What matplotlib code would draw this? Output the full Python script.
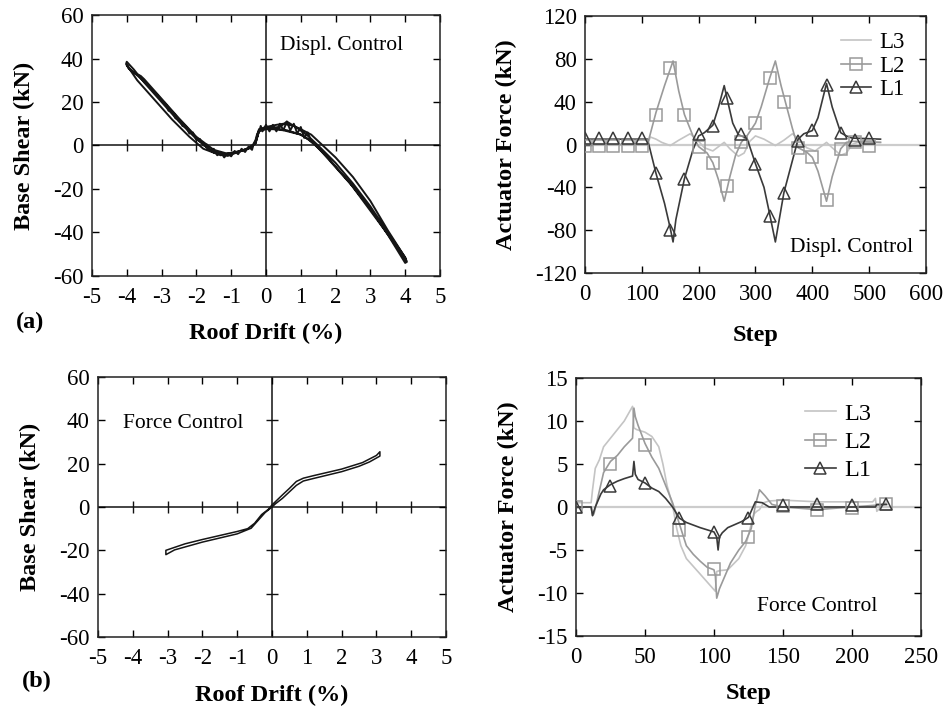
import matplotlib
matplotlib.use("Agg")
import matplotlib.pyplot as plt
from matplotlib.lines import Line2D

plt.rcParams['font.family'] = ['Liberation Serif', 'DejaVu Serif']
plt.rcParams['axes.unicode_minus'] = False

# ---------------- (a) Displacement control: base shear vs roof drift ----------------
drift_a = [0, -0.2, -0.3, -0.5, -0.8, -1.1, -1.5, -2.0, -2.5, -3.0, -3.5, -3.8, -4.0, -4.02,
           -3.95, -3.8, -3.6, -3.5, -3.0, -2.5, -2.0, -1.5, -1.1, -0.8, -0.4, -0.3, -0.2, 0,
           0.3, 0.5, 0.8, 1.0, 1.3, 1.6, 2.0, 2.5, 3.0, 3.5, 4.0, 4.05,
           4.0, 3.5, 3.0, 2.5, 2.0, 1.5, 1.2, 1.0, 0.5, 0.2, 0,
           -0.2, -0.3, -0.6, -1.0, -1.3, -1.8, -2.2, -2.7, -3.2, -3.7, -4.0,
           -3.9, -3.5, -3.0, -2.5, -2.0, -1.6, -1.2, -0.8, -0.45, -0.3, -0.2, 0,
           0.4, 0.6, 0.9, 1.2, 1.5, 2.0, 2.5, 3.0, 3.5, 4.0, 4.03,
           3.6, 3.0, 2.4, 1.8, 1.3, 1.0, 0.6, 0.2, 0]
shear_a = [8, 7, 1, -1.5, -3, -4.8, -3.2, 3, 11, 20, 29, 35, 38.5, 37.5,
           35.5, 33.5, 32, 30.5, 21.5, 12.5, 4, -2, -3.8, -2.8, -0.8, 2, 7.5, 8.5,
           9.5, 10, 9, 7.5, 5, 0.5, -5.5, -14.5, -25.5, -39, -51.5, -53.5,
           -54, -41, -29, -19, -10, -1, 3, 5, 7, 7.5, 7.5,
           6.5, 1, -2, -3.5, -4.5, -1.5, 4, 12, 21, 30, 37,
           35, 29.5, 21, 12, 3.5, -2.5, -4, -3, -1, 1.5, 7, 8,
           8.5, 11, 8, 4.5, 0, -8, -17.5, -28, -40, -51.5, -53,
           -43, -30, -17, -6, 2, 5, 7, 8, 8]
# jagged (noisy) part of the response
drift_a_noise = [-2.9, -2.8, -2.7, -2.6, -2.5, -2.4, -2.3, -2.2, -2.1, -2.0, -1.9, -1.8, -1.7,
                 -1.6, -1.5, -1.4, -1.3, -1.2, -1.1, -1.0, -0.9, -0.8, -0.7, -0.6, -0.5, -0.4,
                 -0.35, -0.3, -0.25, -0.2, -0.15, -0.1, 0.0, 0.1, 0.2, 0.3, 0.4, 0.5, 0.6, 0.7,
                 0.8, 0.9, 1.0, 1.1, 1.2, 1.3]
shear_a_noise = [19.5, 16, 15.5, 12.5, 12, 9, 8.5, 5.5, 6, 2.5, 3, 0, 0.5, -2.5, -1.5, -4.5,
                 -3, -5.5, -3.5, -5, -2.5, -4, -1.5, -3, -0.5, -2, 1, 2.5, 5.5, 6, 9, 6.5,
                 9.5, 6.5, 9.5, 6.5, 10, 7, 11, 7, 10, 5.5, 8.5, 3.5, 6, 2]

# ---------------- (b) Force control: base shear vs roof drift ----------------
drift_b = [0, 0.1, 0.3, 0.5, 0.7, 0.9, 1.2, 2.0, 2.5, 2.8, 3.1, 3.1,
           3.0, 2.6, 2.0, 1.2, 0.9, 0.7, 0.5, 0.3, 0.1, 0, -0.1, -0.3, -0.5, -0.7, -1.0,
           -2.0, -2.5, -3.05, -3.05,
           -2.8, -2.0, -1.0, -0.6, -0.4, -0.2, 0]
shear_b = [0, 1.5, 4, 7, 10, 12, 13.2, 16.3, 18.8, 20.8, 23.5, 25.5,
           23.8, 20.5, 17.5, 14.5, 13.3, 11.8, 8.6, 5.6, 2.5, 1, -1, -3.5, -7.5, -10, -11.3,
           -15, -17, -20, -22,
           -19.8, -16.2, -12.4, -9.8, -6.2, -2.6, 0]

# ---------------- (a) Actuator forces, displacement control ----------------
step_a_l1 = [0, 110, 125, 140, 150, 155, 160, 175, 190, 200, 210, 225, 235, 245, 250, 260, 270, 285,
             300, 315, 325, 335, 350, 365, 375, 385, 400, 410, 425, 435, 450, 460, 470, 520]
force_a_l1 = [5, 5, -27, -55, -78, -91, -70, -32, -5, 8, 11, 18, 35, 55, 43, 20, 9, 6,
              -18, -40, -65, -91, -45, -15, 5, 10, 13, 25, 57, 35, 11, 8, 6, 5]
step_a_l2 = [0, 110, 125, 140, 155, 165, 175, 190, 200, 215, 225, 235, 245, 255, 265, 275, 285,
             300, 310, 325, 335, 345, 355, 365, 375, 390, 400, 410, 425, 435, 450, 460, 470, 520]
force_a_l2 = [0, 0, 30, 55, 78, 50, 28, 8, -2, -8, -17, -33, -53, -30, -10, 2, 8,
              20, 35, 62, 78, 55, 35, 15, -3, -7, -12, -25, -53, -30, -4, 2, 3, 2]
step_a_l3 = [0, 110, 115, 125, 135, 150, 165, 185, 200, 210, 225, 240, 245, 255, 270, 280, 290,
             300, 315, 335, 350, 365, 380, 390, 405, 425, 435, 450, 460, 470, 480, 520]
force_a_l3 = [0, 0, 7, 5, 2, -1, 4, 10, 3, -3, -6, 0, 2, -4, -11, -8, 3,
              8, 5, -1, 4, 10, 3, -3, -6, 2, -3, -10, -8, 0, 2, 2]
mark_step_a = [0, 25, 50, 75, 100, 125, 150, 175, 200, 225, 250, 275, 300, 325, 350, 375, 400,
               425, 450, 475, 500]
mark_a_l2 = [-1, -1, -1, -1, -1, 28, 71, 28, -2, -17, -39, 2, 20, 62, 40, -3, -12, -52, -4, 2, -1]
mark_a_l1 = [6, 6, 6, 6, 6, -27, -80, -32, 10, 17, 43, 10, -18, -67, -45, 3, 14, 56, 11, 4, 6]

# ---------------- (b) Actuator forces, force control ----------------
step_b_l3 = [0, 11, 12, 14, 17, 20, 25, 30, 35, 41, 42, 44, 50, 55, 60, 63, 66, 70, 73, 76, 80, 90,
             101, 102, 104, 110, 118, 123, 127, 129, 131, 133, 136, 140, 150, 175, 200, 215, 217,
             218, 225]
force_b_l3 = [0.5, 0.5, 2, 4.5, 5.5, 7, 8, 9, 10, 11.7, 9.2, 9, 8.7, 8.2, 7, 5, 2.5, 0.2, -2.5,
              -4.5, -6, -7.8, -9.8, -7.5, -7.4, -7.3, -6, -4.5, -2, -0.8, -0.5, -0.3, 0.5, 0.7,
              0.8, 0.6, 0.6, 0.6, 1, -0.5, 0.6]
step_b_l2 = [0, 11, 12, 13, 15, 20, 25, 30, 35, 41, 42, 43, 45, 50, 55, 60, 65, 70, 75, 80, 85, 90,
             95, 100, 101, 102, 104, 108, 112, 118, 123, 127, 130, 133, 137, 142, 150, 175, 200, 225]
force_b_l2 = [0, 0, -1, -0.8, 0.5, 4, 5.3, 6, 7, 8, 11.5, 10.5, 9.5, 7.4, 5.8, 4.5, 2.5, 0.5, -2,
              -4.5, -5.5, -6.3, -7, -7.3, -8, -10.6, -9.5, -8, -6.5, -5, -4, -2.5, 0.2, 2, 1.3,
              0.3, 0, -0.3, 0, 0.3]
step_b_l1 = [0, 11, 12, 14, 18, 20, 25, 30, 35, 41, 42, 43, 45, 50, 55, 60, 65, 70, 75, 80, 90, 100,
             102, 103, 104, 106, 110, 120, 125, 130, 135, 140, 150, 175, 200, 217, 218, 225]
force_b_l1 = [0, 0, -1, 0, 1.5, 2, 2.6, 3, 3.3, 3.6, 5.3, 3.8, 3.2, 2.8, 2.2, 1.8, 1, 0, -1.3,
              -1.8, -2.4, -2.9, -3.5, -5, -3.5, -3, -2.4, -1.7, -1.2, 0.6, 0.5, 0, 0, 0, 0, 0,
              0.3, 0.3]
mark_step_b = [0, 25, 50, 75, 100, 125, 150, 175, 200, 225]
mark_b_l2 = [0, 5, 7.2, -2.7, -7.2, -3.5, 0.1, -0.3, -0.1, 0.3]
mark_b_l1 = [0, 2.4, 2.8, -1.3, -2.9, -1.3, 0.2, 0.3, 0.2, 0.4]

drift_ticks = [-5, -4, -3, -2, -1, 0, 1, 2, 3, 4, 5]
shear_ticks = [-60, -40, -20, 0, 20, 40, 60]
step_ticks_a = [0, 100, 200, 300, 400, 500, 600]
force_ticks_a = [-120, -80, -40, 0, 40, 80, 120]
step_ticks_b = [0, 50, 100, 150, 200, 250]
force_ticks_b = [-15, -10, -5, 0, 5, 10, 15]

C_L3 = '#c4c4c4'
C_L2 = '#9a9a9a'
C_L1 = '#3a3a3a'
TFS = 16.5
AFS = 15.5
LFS = 17.5

fig = plt.figure(figsize=(9.47, 7.08), dpi=100)
ax_tl = fig.add_axes([0.0971, 0.6102, 0.3675, 0.3686])
ax_tr = fig.add_axes([0.6177, 0.6144, 0.3601, 0.3630])
ax_bl = fig.add_axes([0.1035, 0.1003, 0.3675, 0.3672])
ax_br = fig.add_axes([0.6082, 0.1017, 0.3643, 0.3644])


def style(ax, xt, yt):
    ax.set_xticks(xt)
    ax.set_yticks(yt)
    ax.set_xlim(xt[0], xt[-1])
    ax.set_ylim(yt[0], yt[-1])
    ax.tick_params(direction='in', top=True, right=True, length=5, width=1,
                   labelsize=TFS, colors='black')
    ax.tick_params(axis='x', pad=8)
    ax.tick_params(axis='y', pad=6)
    for s in ax.spines.values():
        s.set_linewidth(1.1)
        s.set_color('#222222')


def zero_cross(ax, xt, yt):
    ax.axhline(0, color='#111111', lw=1.1, zorder=1)
    ax.axvline(0, color='#111111', lw=1.1, zorder=1)
    xs = [v for v in xt[1:-1] if v != 0]
    ys = [v for v in yt[1:-1] if v != 0]
    ax.plot(xs, [0] * len(xs), ls='none', marker='|', ms=8, mew=1, color='#111111', zorder=1)
    ax.plot([0] * len(ys), ys, ls='none', marker='_', ms=8, mew=1, color='#111111', zorder=1)


# Top-left
style(ax_tl, drift_ticks, shear_ticks)
zero_cross(ax_tl, drift_ticks, shear_ticks)
ax_tl.plot(drift_a, shear_a, color='#151515', lw=1.4, zorder=3)
ax_tl.plot(drift_a_noise, shear_a_noise, color='#151515', lw=1.4, zorder=3)
ax_tl.text(0.716, 0.885, 'Displ. Control', transform=ax_tl.transAxes, ha='center', va='center',
           fontsize=AFS)
ax_tl.set_xlabel('Roof Drift (%)', fontsize=LFS, fontweight='bold', labelpad=11)
ax_tl.set_ylabel('Base Shear (kN)', fontsize=LFS, fontweight='bold', labelpad=13)

# Bottom-left
style(ax_bl, drift_ticks, shear_ticks)
zero_cross(ax_bl, drift_ticks, shear_ticks)
ax_bl.plot(drift_b, shear_b, color='#151515', lw=1.1, zorder=3)
ax_bl.text(0.245, 0.82, 'Force Control', transform=ax_bl.transAxes, ha='center', va='center',
           fontsize=AFS)
ax_bl.set_xlabel('Roof Drift (%)', fontsize=LFS, fontweight='bold', labelpad=11)
ax_bl.set_ylabel('Base Shear (kN)', fontsize=LFS, fontweight='bold', labelpad=13)

# Legend handles
h3 = Line2D([], [], color=C_L3, lw=1.2)
h2 = Line2D([], [], color=C_L2, lw=1.2, marker='s', ms=8, mfc='none', mec=C_L2, mew=1.1)
h1 = Line2D([], [], color=C_L1, lw=1.2, marker='^', ms=8, mfc='none', mec=C_L1, mew=1.1)

# Top-right
style(ax_tr, step_ticks_a, force_ticks_a)
ax_tr.axhline(0, color='#cccccc', lw=1.6, zorder=1)
ax_tr.plot(step_a_l3, force_a_l3, color=C_L3, lw=1.2, zorder=2)
ax_tr.plot(step_a_l2, force_a_l2, color=C_L2, lw=1.2, zorder=3)
ax_tr.plot(step_a_l1, force_a_l1, color=C_L1, lw=1.2, zorder=4)
ax_tr.plot(mark_step_a, mark_a_l2, ls='none', marker='s', ms=9, mfc='none', mec=C_L2, mew=1.1, zorder=5)
ax_tr.plot(mark_step_a, mark_a_l1, ls='none', marker='^', ms=9, mfc='none', mec=C_L1, mew=1.1, zorder=6)
ax_tr.legend([h3, h2, h1], ['L3', 'L2', 'L1'], loc='upper right', bbox_to_anchor=(0.977, 0.99),
             frameon=False, fontsize=TFS, handlelength=1.3, handletextpad=0.35, labelspacing=0.1,
             borderaxespad=0.2)
ax_tr.text(0.783, 0.101, 'Displ. Control', transform=ax_tr.transAxes, ha='center', va='center',
           fontsize=AFS)
ax_tr.set_xlabel('Step', fontsize=LFS, fontweight='bold', labelpad=14)
ax_tr.set_ylabel('Actuator Force (kN)', fontsize=LFS, fontweight='bold', labelpad=13)

# Bottom-right
style(ax_br, step_ticks_b, force_ticks_b)
ax_br.axhline(0, color='#cccccc', lw=1.6, zorder=1)
ax_br.plot(step_b_l3, force_b_l3, color=C_L3, lw=1.2, zorder=2)
ax_br.plot(step_b_l2, force_b_l2, color=C_L2, lw=1.2, zorder=3)
ax_br.plot(step_b_l1, force_b_l1, color=C_L1, lw=1.2, zorder=4)
ax_br.plot(mark_step_b, mark_b_l2, ls='none', marker='s', ms=9, mfc='none', mec=C_L2, mew=1.1, zorder=5)
ax_br.plot(mark_step_b, mark_b_l1, ls='none', marker='^', ms=9, mfc='none', mec=C_L1, mew=1.1, zorder=6)
ax_br.legend([h3, h2, h1], ['L3', 'L2', 'L1'], loc='upper right', bbox_to_anchor=(0.90, 0.96),
             frameon=False, fontsize=TFS + 1, handlelength=1.3, handletextpad=0.35, labelspacing=0.25,
             borderaxespad=0.2)
ax_br.text(0.7, 0.116, 'Force Control', transform=ax_br.transAxes, ha='center', va='center',
           fontsize=AFS)
ax_br.set_xlabel('Step', fontsize=LFS, fontweight='bold', labelpad=11)
ax_br.set_ylabel('Actuator Force (kN)', fontsize=LFS, fontweight='bold', labelpad=13)

fig.text(30 / 947, 1 - 322 / 708, '(a)', fontsize=LFS, fontweight='bold', ha='center', va='center')
fig.text(37 / 947, 1 - 681 / 708, '(b)', fontsize=LFS, fontweight='bold', ha='center', va='center')

fig.savefig('out.png', dpi=100)
